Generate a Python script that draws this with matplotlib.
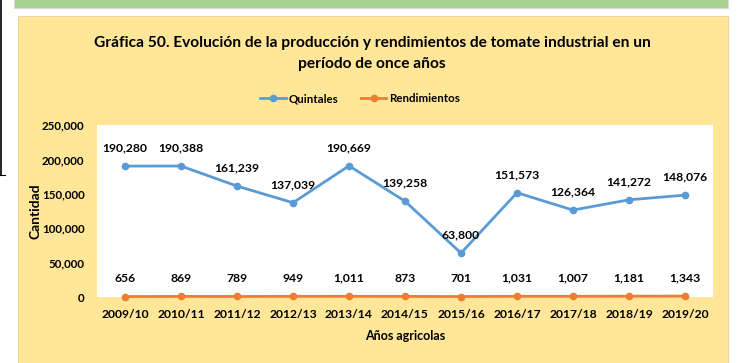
import matplotlib.pyplot as plt
from matplotlib.patches import Rectangle
from matplotlib.lines import Line2D

campanas = ["2009/10", "2010/11", "2011/12", "2012/13", "2013/14", "2014/15",
            "2015/16", "2016/17", "2017/18", "2018/19", "2019/20"]
quintales = [190280, 190388, 161239, 137039, 190669, 139258,
             63800, 151573, 126364, 141272, 148076]
rendimientos = [656, 869, 789, 949, 1011, 873, 701, 1031, 1007, 1181, 1343]
yticks = [0, 50000, 100000, 150000, 200000, 250000]

azul = "#5B9BD5"
naranja = "#ED7D31"
fuente = "Lato"

W, H = 747, 363
fig = plt.figure(figsize=(W / 100, H / 100), dpi=100)
fig.patch.set_facecolor("white")

def caja(x0, y0, x1, y1, **kw):
    # rectangle in pixel coords (y from top), drawn behind the axes
    fig.patches.append(Rectangle((x0 / W, 1 - y1 / H), (x1 - x0) / W, (y1 - y0) / H,
                                 transform=fig.transFigure, zorder=-5, **kw))

caja(14, -2, 728, 8, facecolor="#A9D18E", edgecolor="#D9D9D9", lw=0.8)
caja(18, 16, 728, 366, facecolor="#FFE699", edgecolor="#EAD49A", lw=0.8)
fig.lines.append(Line2D([0.5 / W, 0.5 / W], [1, 1 - 175 / H], transform=fig.transFigure,
                        color="black", lw=1.2))
fig.lines.append(Line2D([0, 5 / W], [1 - 175 / H, 1 - 175 / H], transform=fig.transFigure,
                        color="black", lw=0.8))

ax = fig.add_axes([97 / W, 1 - 297 / H, 616 / W, 172 / H])
ax.set_facecolor("white")
x = list(range(len(campanas)))

ax.plot(x, quintales, color=azul, lw=2, marker="o", ms=4.5, label="Quintales", zorder=3)
ax.plot(x, rendimientos, color=naranja, lw=2, marker="o", ms=4.5, label="Rendimientos",
        zorder=3, clip_on=False)

for xi, v in zip(x, quintales):
    ax.annotate(f"{v:,}", (xi, v), xytext=(0, 9), textcoords="offset points",
                ha="center", va="bottom", fontsize=8.7, fontweight="bold", family=fuente)
for xi, v in zip(x, rendimientos):
    ax.annotate(f"{v:,}", (xi, v), xytext=(0, 9), textcoords="offset points",
                ha="center", va="bottom", fontsize=8.7, fontweight="bold", family=fuente)

ax.set_xlim(-0.5, len(campanas) - 0.5)
ax.set_ylim(0, 250000)
ax.set_yticks(yticks)
ax.set_yticklabels([f"{t:,}" for t in yticks], fontsize=8.3, fontweight="bold", family=fuente)
ax.set_xticks(x)
ax.set_xticklabels(campanas, fontsize=8.7, fontweight="bold", family=fuente)
ax.tick_params(length=0, pad=9)
ax.tick_params(axis="y", pad=9)
for s in ax.spines.values():
    s.set_visible(False)

ax.set_ylabel("Cantidad", fontsize=10, fontweight="bold", family=fuente)
ax.yaxis.set_label_coords((42 - 97) / 616, 0.5)
ax.set_xlabel("Años agricolas", fontsize=9, fontweight="bold", family=fuente, labelpad=7)

fig.text(372 / W, 1 - 43 / H,
         "Gráfica 50. Evolución de la producción y rendimientos de tomate industrial en un",
         ha="center", va="center", fontsize=11.2, fontweight="bold", family=fuente)
fig.text(372 / W, 1 - 64 / H, "período de once años",
         ha="center", va="center", fontsize=11.2, fontweight="bold", family=fuente)

fig.legend(loc="center", bbox_to_anchor=(360 / W, 1 - 99 / H), ncol=2, frameon=False,
           prop={"family": fuente, "weight": "bold", "size": 8.3}, handlelength=2.2,
           columnspacing=2.0, handletextpad=0.2)

fig.savefig("out.png", dpi=100)
